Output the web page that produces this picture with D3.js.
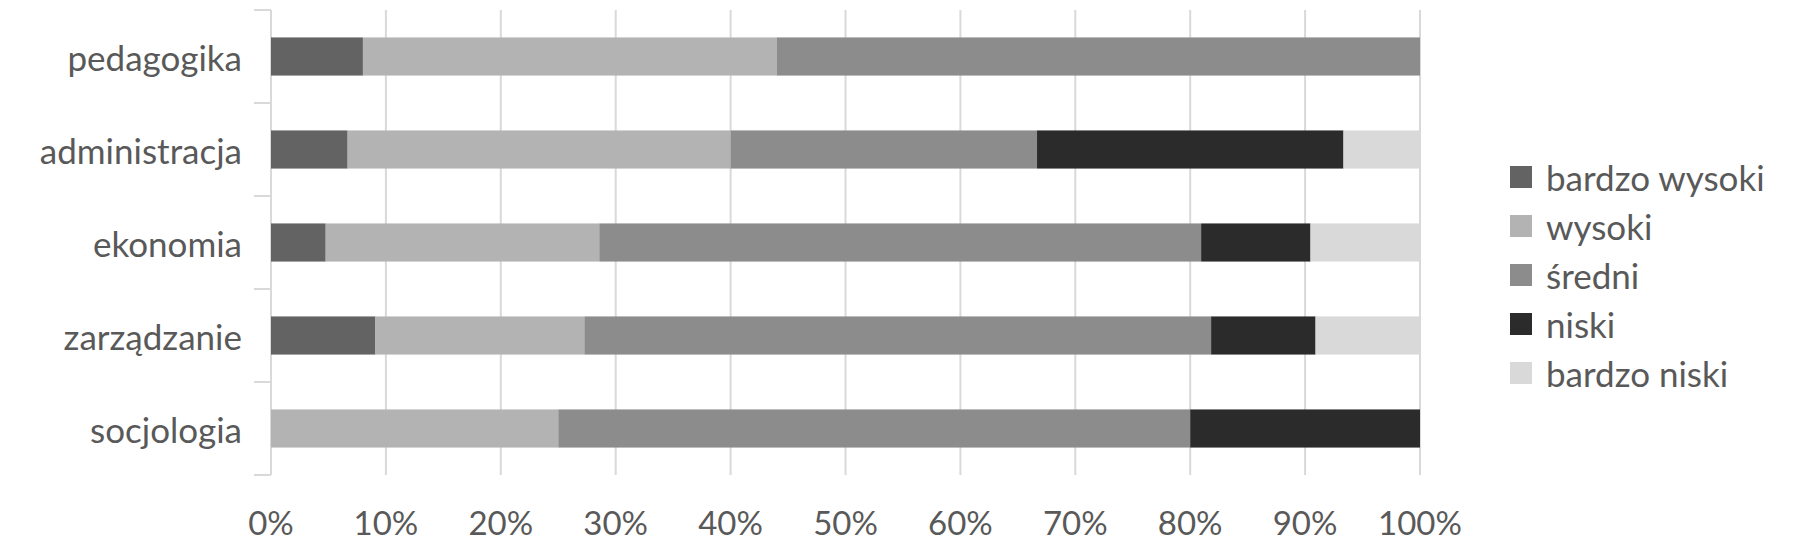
<!DOCTYPE html>
<html>
<head>
<meta charset="utf-8">
<script src="https://cdn.jsdelivr.net/npm/d3@7"></script>
<style>
  html, body { margin: 0; padding: 0; background: #fff; }
  svg { display: block; }
  text { font-family: Lato, "Open Sans", sans-serif; fill: #595959; }
</style>
</head>
<body>
<svg id="chart" width="1800" height="558"></svg>
<script>
const categories = ["pedagogika", "administracja", "ekonomia", "zarządzanie", "socjologia"];
const seriesNames = ["bardzo wysoki", "wysoki", "średni", "niski", "bardzo niski"];
const bardzoWysoki = [8.0, 6.67, 4.76, 9.09, 0];
const wysoki       = [36.0, 33.33, 23.81, 18.18, 25.0];
const sredni       = [56.0, 26.67, 52.38, 54.55, 55.0];
const niski        = [0, 26.67, 9.52, 9.09, 20.0];
const bardzoNiski  = [0, 6.67, 9.52, 9.09, 0];
const colors = ["#636363", "#b3b3b3", "#8c8c8c", "#2b2b2b", "#d9d9d9"];
const xTicks = [0, 10, 20, 30, 40, 50, 60, 70, 80, 90, 100];

const seriesValues = [bardzoWysoki, wysoki, sredni, niski, bardzoNiski];
const rows = categories.map((c, i) => {
  const r = { cat: c };
  seriesNames.forEach((s, j) => r[s] = seriesValues[j][i]);
  return r;
});
const stacked = d3.stack().keys(seriesNames)(rows);

const svg = d3.select("#chart");
const fontSize = 35;
const pLeft = 271, pRight = 1420, pTop = 10, pBottom = 475;

const x = d3.scaleLinear().domain([0, 100]).range([pLeft, pRight]);
const y = d3.scaleBand().domain(categories).range([pTop, pBottom]).paddingInner(0.59).paddingOuter(0.295);
const yOuter = d3.scaleBand().domain(categories).range([pTop, pBottom]);

// gridlines
svg.append("g").selectAll("line").data(xTicks.slice(1)).join("line")
  .attr("x1", d => x(d)).attr("x2", d => x(d))
  .attr("y1", pTop).attr("y2", pBottom)
  .attr("stroke", "#d9d9d9").attr("stroke-width", 2);

// y axis line and ticks
const yAxis = svg.append("g");
yAxis.append("line").attr("x1", pLeft).attr("x2", pLeft).attr("y1", pTop).attr("y2", pBottom)
  .attr("stroke", "#d9d9d9").attr("stroke-width", 2);
const bounds = categories.map(c => yOuter(c)).concat([pBottom]);
yAxis.selectAll("line.tick").data(bounds).join("line").attr("class", "tick")
  .attr("x1", pLeft - 17).attr("x2", pLeft).attr("y1", d => d).attr("y2", d => d)
  .attr("stroke", "#d9d9d9").attr("stroke-width", 2);

// bars
svg.append("g").selectAll("g").data(stacked).join("g")
  .attr("fill", (d, i) => colors[i])
  .selectAll("rect").data(d => d).join("rect")
  .attr("x", d => x(d[0]))
  .attr("width", d => Math.max(0, x(d[1]) - x(d[0])))
  .attr("y", d => y(d.data.cat))
  .attr("height", y.bandwidth());

// category labels
svg.append("g").selectAll("text").data(categories).join("text")
  .attr("x", pLeft - 29)
  .attr("y", d => y(d) + y.bandwidth() / 2)
  .attr("text-anchor", "end")
  .attr("dominant-baseline", "central")
  .attr("font-size", fontSize)
  .text(d => d);

// x tick labels
svg.append("g").selectAll("text").data(xTicks).join("text")
  .attr("x", d => x(d))
  .attr("y", 522)
  .attr("text-anchor", "middle")
  .attr("dominant-baseline", "central")
  .attr("font-size", 33)
  .text(d => d + "%");

// legend
const lg = svg.append("g");
const legY = d3.scalePoint().domain(seriesNames).range([177, 373]);
lg.selectAll("rect").data(seriesNames).join("rect")
  .attr("x", 1510).attr("y", d => legY(d) - 11)
  .attr("width", 22).attr("height", 22)
  .attr("fill", (d, i) => colors[i]);
lg.selectAll("text").data(seriesNames).join("text")
  .attr("x", 1546).attr("y", d => legY(d))
  .attr("dominant-baseline", "central")
  .attr("font-size", fontSize)
  .text(d => d);
</script>
</body>
</html>
